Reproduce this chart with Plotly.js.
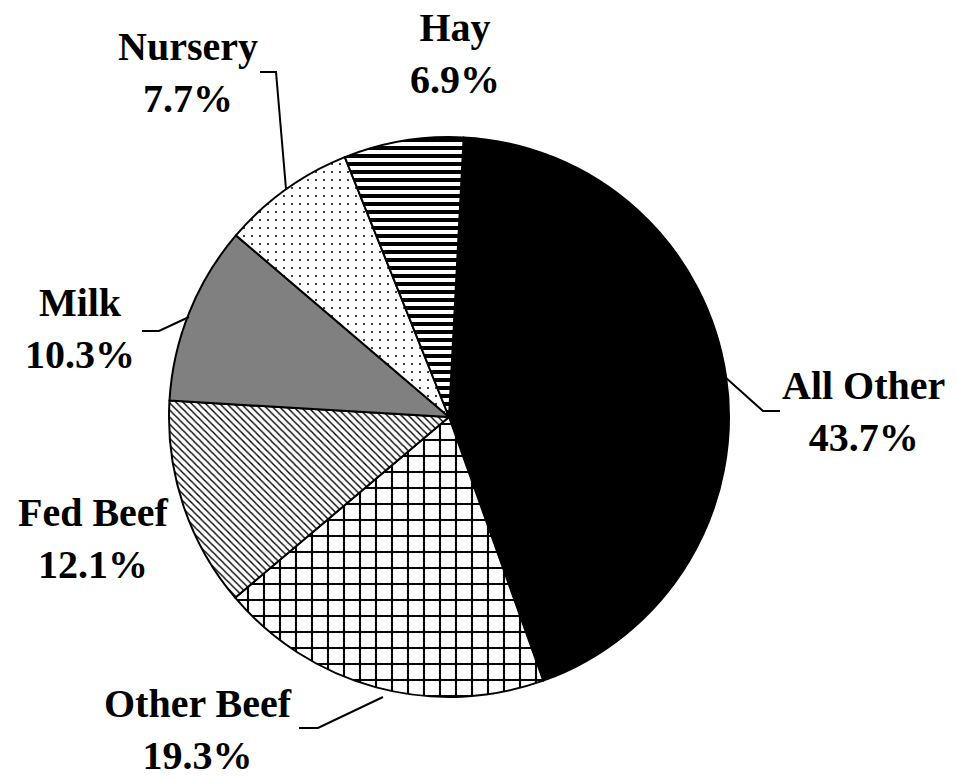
<!DOCTYPE html>
<html>
<head>
<meta charset="utf-8">
<script src="https://cdn.plot.ly/plotly-3.0.1.min.js"></script>
<style>html,body{margin:0;padding:0;background:#fff;}#chart{width:958px;height:779px;}</style>
</head>
<body>
<div id="chart"></div>
<script>
// Data
const labels = ["All Other", "Other Beef", "Fed Beef", "Milk", "Nursery", "Hay"];
const values = [43.7, 19.3, 12.1, 10.3, 7.7, 6.9];

// Styling per slice
const fillColors = ["#000000", "#ffffff", "#ffffff", "#808080", "#ffffff", "#ffffff"];
const patternShapes = ["", "+", "\\", "", ".", "-"];
const patternSizes = [8, 16, 5, 8, 8, 8];
const patternSolidity = [0.3, 0.25, 0.28, 0.3, 0.05, 0.5];

const W = 958, H = 779;
const px = x => x / W;
const py = y => 1 - y / H;

// label block centers (pixels)
const labelPos = [[863, 411], [198, 729], [93, 538], [80, 329], [188, 73], [455, 54]];

const annotations = labels.map((l, i) => ({
  text: "<b>" + l + "<br>" + values[i].toFixed(1) + "%</b>",
  x: px(labelPos[i][0]), y: py(labelPos[i][1]),
  xref: "paper", yref: "paper", xanchor: "center", yanchor: "middle",
  showarrow: false,
  font: {family: "Liberation Serif", size: 40, color: "#000"}
}));

const leaders = [
  [[725, 377], [763, 411], [780, 411]],
  [[383, 697], [318, 728], [299, 728]],
  [[189, 317], [159, 331], [142, 331]],
  [[286, 189], [276, 72], [260, 72]]
];
const shapes = leaders.map(pts => ({
  type: "path", xref: "paper", yref: "paper",
  path: pts.map((p, i) => (i ? "L" : "M") + px(p[0]) + "," + py(p[1])).join(" "),
  line: {color: "#000", width: 2}
}));

const cx = 449, cy = 417, r = 280;
const trace = {
  type: "pie",
  labels: labels,
  values: values,
  sort: false,
  direction: "clockwise",
  rotation: 3,
  textinfo: "none",
  hoverinfo: "none",
  domain: {x: [px(cx - r), px(cx + r)], y: [py(cy + r), py(cy - r)]},
  marker: {
    colors: fillColors,
    line: {color: "#000", width: 2},
    pattern: {
      shape: patternShapes,
      size: patternSizes,
      solidity: patternSolidity,
      fgcolor: "#000000",
      bgcolor: fillColors,
      fillmode: "replace"
    }
  }
};

Plotly.newPlot("chart", [trace], {
  width: W, height: H,
  margin: {l: 0, r: 0, t: 0, b: 0},
  paper_bgcolor: "#fff",
  showlegend: false,
  annotations: annotations,
  shapes: shapes
}, {staticPlot: true});
</script>
</body>
</html>
